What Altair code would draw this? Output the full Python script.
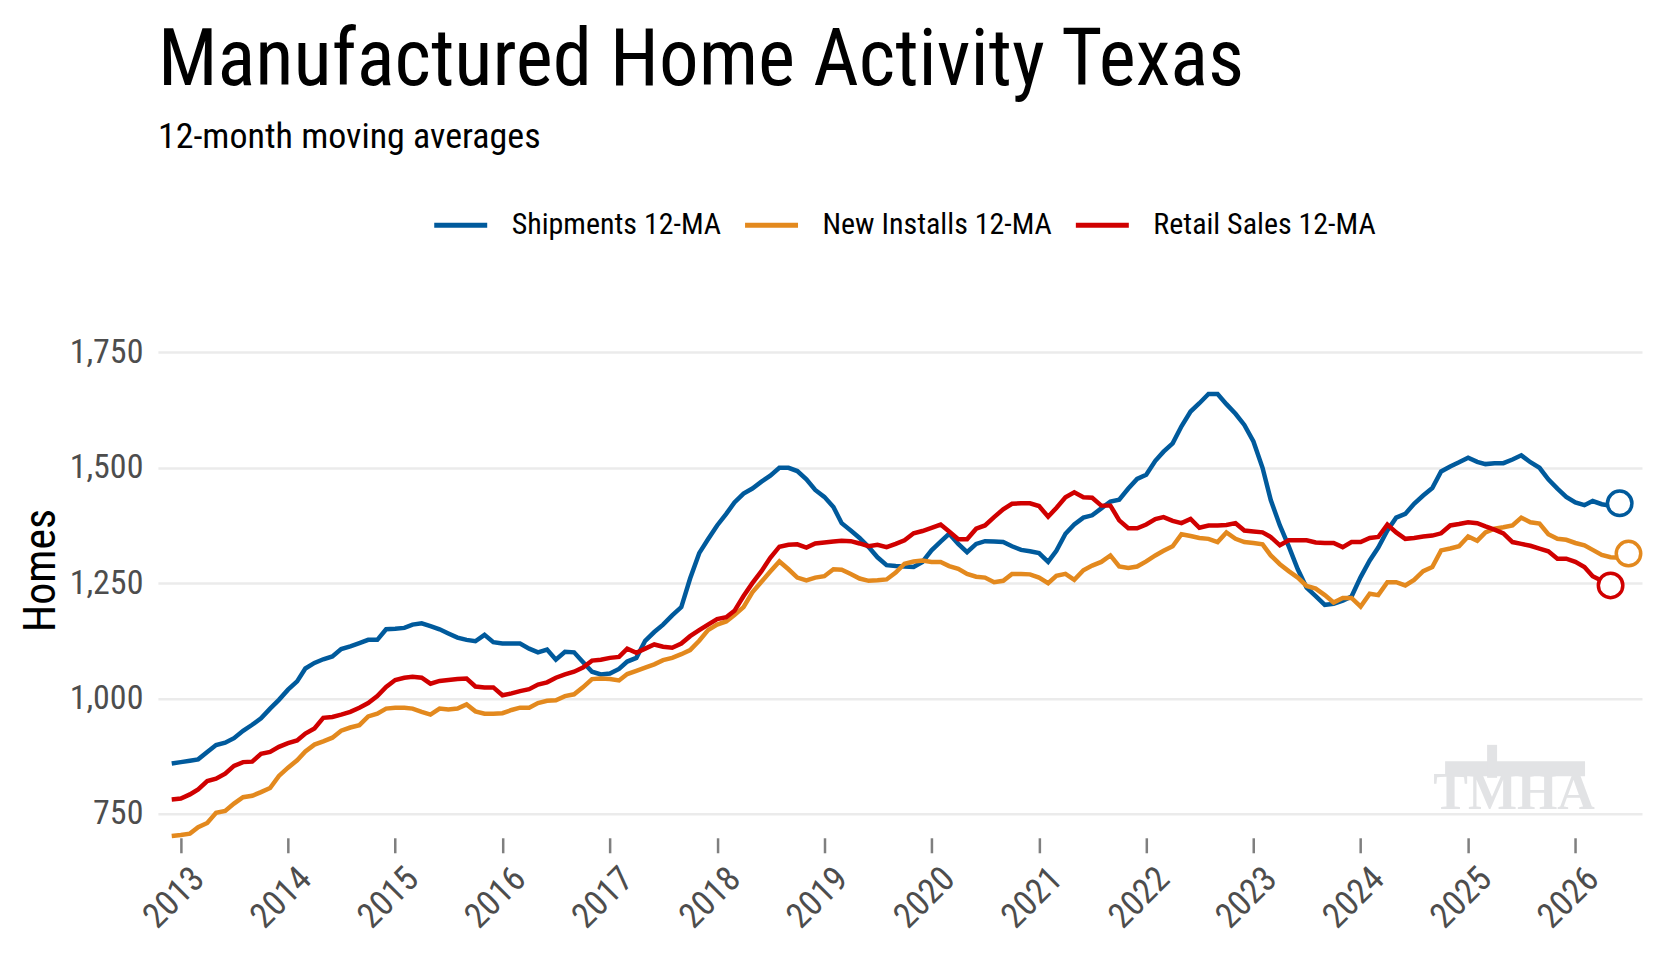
import altair as alt
import pandas as pd

FONT = "Roboto Condensed, Liberation Sans Narrow, DejaVu Sans Condensed, Oswald, sans-serif"

SERIES = ["Shipments 12-MA", "New Installs 12-MA", "Retail Sales 12-MA"]
COLORS = ["#005A9C", "#E3891E", "#D00000"]
START = "2012-12-01"
YEARS = list(range(2013, 2027))
Y_TICKS = [750, 1000, 1250, 1500, 1750]

shipments = [
    859,
    862, 865, 868, 884, 899, 904, 914, 930, 943, 957, 978, 997,
    1019, 1037, 1065, 1077, 1085, 1091, 1107, 1113, 1120, 1127, 1127, 1150,
    1151, 1153, 1160, 1163, 1157, 1150, 1141, 1132, 1127, 1124, 1138, 1122,
    1119, 1119, 1119, 1108, 1100, 1106, 1084, 1101, 1100, 1079, 1058, 1052,
    1054, 1064, 1080, 1088, 1125, 1144, 1160, 1180, 1198, 1260, 1315, 1345,
    1375, 1400, 1425, 1444, 1455, 1470, 1483, 1500, 1500, 1493, 1475, 1452,
    1437, 1415, 1380, 1364, 1348, 1328, 1306, 1289, 1287, 1286, 1285, 1296,
    1321, 1340, 1357, 1335, 1317, 1335, 1341, 1340, 1339, 1330, 1322, 1319,
    1315, 1296, 1320, 1357, 1377, 1392, 1397, 1412, 1427, 1431, 1455, 1476,
    1485, 1515, 1535, 1553, 1590, 1622, 1640, 1660, 1660, 1638, 1617, 1593,
    1557, 1500, 1430, 1375, 1330, 1280, 1240, 1222, 1203, 1205, 1212, 1221,
    1263, 1299, 1327, 1364, 1392, 1400, 1422, 1440, 1456, 1492, 1503, 1512,
    1522, 1513, 1508, 1510, 1510, 1518, 1527, 1512, 1500, 1475, 1455, 1437,
    1425, 1419, 1428, 1421, 1418, 1423,
]

new_installs = [
    702,
    704, 707, 721, 730, 752, 756, 772, 786, 789, 797, 806, 832,
    850, 866, 885, 900, 907, 915, 930, 937, 942, 961, 967, 978,
    980, 980, 978, 971, 965, 978, 976, 978, 987, 972, 967, 967,
    968, 975, 980, 980, 990, 995, 996, 1005, 1009, 1024, 1042, 1043,
    1042, 1039, 1053, 1060, 1067, 1074, 1083, 1088, 1096, 1105, 1125, 1148,
    1160, 1167, 1181, 1198, 1230, 1253, 1275, 1297, 1280, 1262, 1256, 1262,
    1265, 1280, 1279, 1270, 1260, 1255, 1256, 1258, 1273, 1292, 1297, 1299,
    1296, 1296, 1287, 1281, 1270, 1264, 1262, 1252, 1255, 1270, 1270, 1269,
    1262, 1250, 1266, 1270, 1257, 1278, 1288, 1296, 1310, 1286, 1283, 1286,
    1297, 1310, 1320, 1330, 1356, 1352, 1348, 1346, 1339, 1360, 1346, 1339,
    1337, 1334, 1310, 1291, 1276, 1262, 1244, 1238, 1224, 1208, 1218, 1218,
    1199, 1227, 1224, 1252, 1252, 1245, 1257, 1276, 1285, 1321, 1325, 1330,
    1351, 1342, 1360, 1368, 1371, 1375, 1392, 1382, 1379, 1356, 1346, 1344,
    1337, 1332, 1322, 1311, 1306, 1305, 1314,
]

retail_sales = [
    781,
    783, 792, 803, 821, 826, 837, 854, 862, 863, 880, 884, 895,
    903, 909, 924, 935, 958, 960, 965, 971, 980, 990, 1005, 1025,
    1040, 1045, 1047, 1045, 1032, 1038, 1040, 1042, 1043, 1026, 1024, 1024,
    1007, 1011, 1016, 1020, 1030, 1035, 1045, 1052, 1058, 1067, 1082, 1084,
    1088, 1090, 1108, 1099, 1108, 1117, 1112, 1110, 1119, 1135, 1148, 1160,
    1172, 1176, 1190, 1222, 1250, 1276, 1305, 1329, 1333, 1334, 1327, 1336,
    1338, 1340, 1342, 1341, 1336, 1330, 1333, 1328, 1335, 1343, 1358, 1363,
    1370, 1377, 1362, 1345, 1345, 1368, 1375, 1393, 1410, 1422, 1423, 1423,
    1417, 1394, 1413, 1436, 1447, 1436, 1435, 1418, 1418, 1386, 1369, 1369,
    1377, 1389, 1393, 1385, 1380, 1389, 1370, 1375, 1375, 1376, 1380, 1364,
    1362, 1360, 1350, 1332, 1343, 1343, 1343, 1338, 1337, 1337, 1328, 1339,
    1339, 1348, 1350, 1377, 1360, 1346, 1348, 1351, 1353, 1358, 1375, 1378,
    1382, 1380, 1373, 1366, 1358, 1339, 1335, 1331, 1325, 1319, 1303, 1303,
    1296, 1285, 1265, 1255, 1245,
]

rows = []
for name, vals in zip(SERIES, [shipments, new_installs, retail_sales]):
    dates = pd.date_range(START, periods=len(vals), freq="MS")
    for d, v in zip(dates, vals):
        rows.append({"date": d.strftime("%Y-%m-%d"), "value": v, "series": name})
df = pd.DataFrame(rows)
last = df.groupby("series", sort=False).tail(1)

x_scale = alt.Scale(
    type="utc",
    domain=[alt.DateTime(year=2012, month=10, date=15, utc=True),
            alt.DateTime(year=2026, month=8, date=16, utc=True)],
)
y_scale = alt.Scale(domain=[698, 1792], nice=False, zero=False)

x_enc = alt.X(
    "date:T",
    scale=x_scale,
    axis=alt.Axis(
        title=None,
        values=[alt.DateTime(year=y, month=1, date=1, utc=True) for y in YEARS],
        format="%Y",
        labelAngle=-45,
        labelAlign="right",
        labelBaseline="top",
        labelOffset=5,
        labelPadding=8,
        labelFont=FONT,
        labelFontSize=35,
        labelColor="#4d4d4d",
        grid=False,
        domain=False,
        ticks=True,
        tickSize=15,
        tickWidth=2.5,
        tickColor="#7f7f7f",
        labelFlush=False,
        labelOverlap=False,
    ),
)
y_enc = alt.Y(
    "value:Q",
    scale=y_scale,
    axis=alt.Axis(
        title="Homes",
        titleFont=FONT,
        titleFontSize=44,
        titleFontWeight="normal",
        titleColor="black",
        titleX=-103,
        titleY=237,
        titleBaseline="alphabetic",
        values=Y_TICKS,
        format=",d",
        labelFont=FONT,
        labelFontSize=34,
        labelColor="#4d4d4d",
        labelPadding=15,
        ticks=False,
        domain=False,
        grid=True,
        gridColor="#EBEBEB",
        gridWidth=2.5,
    ),
)

color_scale = alt.Scale(domain=SERIES, range=COLORS)

lines = alt.Chart(df).mark_line(strokeWidth=4.5).encode(
    x=x_enc,
    y=y_enc,
    color=alt.Color(
        "series:N",
        scale=color_scale,
        sort=SERIES,
        legend=alt.Legend(
            title=None,
            orient="none",
            direction="horizontal",
            legendX=274,
            legendY=-137,
            symbolType="stroke",
            symbolSize=2809,
            symbolStrokeWidth=5,
            labelFont=FONT,
            labelFontSize=30,
            labelColor="black",
            labelLimit=500,
            labelOffset=22,
            columnPadding=13,
        ),
    ),
    detail=alt.Detail("series:N"),
)

ends = alt.Chart(last).mark_point(
    shape="circle", size=600, filled=True, fill="white", strokeWidth=3.5, opacity=1
).encode(
    x=alt.X("date:T", scale=x_scale),
    y=alt.Y("value:Q", scale=y_scale),
    stroke=alt.Stroke("series:N", scale=color_scale, legend=None),
)

LOGO_GRAY = "#e2e3e5"
logo_text = alt.Chart(pd.DataFrame({"t": ["TMHA"]})).mark_text(
    font="Liberation Serif, DejaVu Serif, serif",
    fontWeight="bold",
    fontSize=52,
    color=LOGO_GRAY,
    align="center",
    baseline="alphabetic",
).encode(text="t:N", x=alt.value(1357), y=alt.value(476))

logo_roof = alt.Chart(pd.DataFrame({"t": ["roof"]})).mark_rule(
    color=LOGO_GRAY, strokeWidth=15
).encode(x=alt.value(1288), x2=alt.value(1428), y=alt.value(436), y2=alt.value(436))

logo_tx = alt.Chart(pd.DataFrame({"t": ["tx"]})).mark_rule(
    color=LOGO_GRAY, strokeWidth=10
).encode(x=alt.value(1335), x2=alt.value(1335), y=alt.value(412), y2=alt.value(445))

chart = (
    alt.layer(logo_roof, logo_tx, logo_text, lines, ends)
    .properties(
        width=1485,
        height=505,
        autosize=alt.AutoSizeParams(type="none"),
        padding={"left": 150, "top": 325, "right": 10, "bottom": 110},
        title=alt.TitleParams(
            text="Manufactured Home Activity Texas",
            subtitle="12-month moving averages",
            anchor="start",
            frame="group",
            font=FONT,
            fontSize=79,
            fontWeight="normal",
            color="black",
            subtitleFont=FONT,
            subtitleFontSize=36,
            subtitleColor="black",
            subtitlePadding=18,
            offset=40,
        ),
    )
    .configure(background="white")
    .configure_view(stroke="transparent", strokeWidth=0)
)

chart.save("out.html", embed_options={"renderer": "svg", "actions": False})
